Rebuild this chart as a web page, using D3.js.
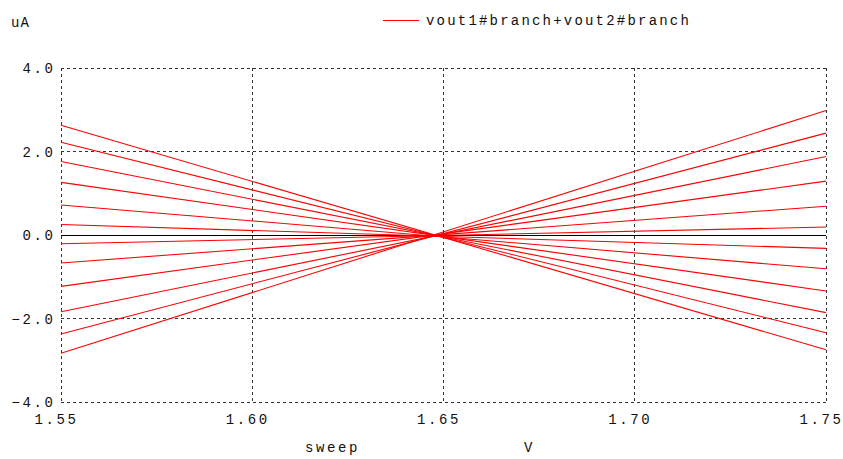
<!DOCTYPE html>
<html><head><meta charset="utf-8">
<script src="https://cdn.jsdelivr.net/npm/d3@7"></script>
<style>
body{margin:0;background:#fff;}
text{font-family:"Liberation Mono","DejaVu Sans Mono",monospace;font-size:14px;fill:#111;letter-spacing:2.6px;}
</style></head>
<body>
<svg id="c" width="843" height="459"></svg>
<script>
const sweep = [1.55, 1.75];
const seriesLeft  = [2.63, 2.22, 1.76, 1.26, 0.72, 0.25, -0.21, -0.67, -1.23, -1.84, -2.37, -2.83];
const seriesRight = [-2.75, -2.34, -1.86, -1.34, -0.81, -0.32, 0.19, 0.69, 1.29, 1.88, 2.44, 2.98];
const xTicks = [1.55, 1.60, 1.65, 1.70, 1.75];
const yTicks = [-4, -2, 0, 2, 4];
const legendLabel = "vout1#branch+vout2#branch";

const svg = d3.select("#c");
const x = d3.scaleLinear().domain([1.55, 1.75]).range([61, 826]);
const y = d3.scaleLinear().domain([-4, 4]).range([402, 68]);

// grid
const g = svg.append("g");
xTicks.forEach(t => g.append("line").attr("x1", x(t)).attr("x2", x(t)).attr("y1", y(4)).attr("y2", y(-4))
  .attr("stroke", "#333").attr("stroke-width", 1).attr("stroke-dasharray", "3,3").attr("shape-rendering","crispEdges"));
yTicks.forEach(t => g.append("line").attr("x1", x(1.55)).attr("x2", x(1.75)).attr("y1", y(t)).attr("y2", y(t))
  .attr("stroke", t === 0 ? "#000" : "#333").attr("stroke-width", 1)
  .attr("stroke-dasharray", t === 0 ? null : "3,3").attr("shape-rendering","crispEdges"));

// tick labels
yTicks.forEach(t => svg.append("text").attr("x", 53 + 2.6).attr("y", y(t) + 5).attr("text-anchor", "end")
  .text(d3.format(".1f")(t)));
xTicks.forEach(t => svg.append("text").attr("x", x(t) + 15 + 2.6).attr("y", 424).attr("text-anchor", "end")
  .text(d3.format(".2f")(t)));

// data lines
const line = d3.line().x(d => x(d[0])).y(d => y(d[1]));
seriesLeft.forEach((v, i) => {
  svg.append("path").datum([[sweep[0], v], [sweep[1], seriesRight[i]]])
    .attr("d", line).attr("fill", "none").attr("stroke", "#ff0000").attr("stroke-width", 1.1);
});

// labels
svg.append("text").attr("x", 11).attr("y", 27).style("letter-spacing", "1px").text("uA");
svg.append("text").attr("x", 305).attr("y", 452).text("sweep");
svg.append("text").attr("x", 524).attr("y", 452).text("V");

// legend
svg.append("line").attr("x1", 383).attr("x2", 419).attr("y1", 20.5).attr("y2", 20.5).attr("stroke", "#ff0000").attr("stroke-width", 1.2);
svg.append("text").attr("x", 426).attr("y", 25).style("letter-spacing", "2.2px").text(legendLabel);
</script>
</body></html>
